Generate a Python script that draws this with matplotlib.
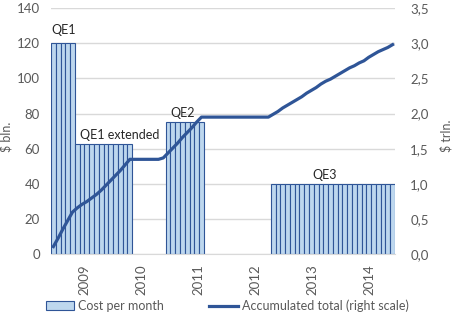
import matplotlib.pyplot as plt
import numpy as np

plt.rcParams['font.family'] = ['Lato', 'DejaVu Sans']

# monthly data, Nov 2008 .. Oct 2014
years = ['2009', '2010', '2011', '2012', '2013', '2014']
cost = [120] * 5 + [62.5] * 12 + [0] * 7 + [75] * 8 + [0] * 14 + [40] * 26
total = [0.11, 0.23, 0.36, 0.48, 0.60, 0.66, 0.71, 0.75, 0.80, 0.85, 0.91, 0.98,
         1.05, 1.12, 1.19, 1.27, 1.35,
         1.35, 1.35, 1.35, 1.35, 1.35, 1.35,
         1.37, 1.44, 1.51, 1.58, 1.66, 1.73, 1.80, 1.88, 1.95,
         1.95, 1.95, 1.95, 1.95, 1.95, 1.95, 1.95, 1.95, 1.95, 1.95, 1.95, 1.95, 1.95, 1.95,
         1.99, 2.03, 2.08, 2.12, 2.16, 2.20, 2.24, 2.29, 2.33, 2.37, 2.42, 2.46, 2.49,
         2.53, 2.57, 2.61, 2.65, 2.68, 2.72, 2.75, 2.80, 2.84, 2.88, 2.91, 2.94, 2.98]
programs = ['QE1', 'QE1 extended', 'QE2', 'QE3']

grey = '#595959'
dark = '#2F5597'

fig = plt.figure(figsize=(4.54, 3.22), dpi=100)
ax = fig.add_axes([0.1123, 0.2102, 0.7577, 0.7648])
ax2 = ax.twinx()

x = np.arange(len(cost))
cost = np.array(cost, dtype=float)
m = cost > 0
ax.bar(x[m], cost[m], width=1.0, color='#BDD7EE', edgecolor=dark, linewidth=0.8,
       label='Cost per month', zorder=2)
ax2.plot(x, total, color=dark, linewidth=2.3, label='Accumulated total (right scale)')

ax.set_xlim(-0.5, len(cost) - 0.5)
ax.set_ylim(0, 140)
ax.set_yticks(range(0, 141, 20))
ax2.set_ylim(0, 3.5)
ax2.set_yticks(np.arange(0, 3.51, 0.5))
ax2.set_yticklabels([f'{v:.1f}'.replace('.', ',') for v in np.arange(0, 3.51, 0.5)])

ax.set_xticks([6.4 + 11.93 * k for k in range(len(years))])
ax.set_xticklabels(years, rotation=90, va='top', ha='center')

ax.grid(axis='y', color='#D9D9D9', linewidth=1, zorder=0)
ax.set_axisbelow(True)
for a in (ax, ax2):
    for s in a.spines.values():
        s.set_visible(False)
    a.tick_params(length=0, labelsize=9.5, labelcolor=grey)
ax.spines['bottom'].set_visible(True)
ax.spines['bottom'].set_color('#D9D9D9')
ax.tick_params(axis='y', pad=8)
ax.tick_params(axis='x', pad=7)
ax2.tick_params(axis='y', pad=11)

ax.set_ylabel('$ bln.', fontsize=9, color=grey)
ax2.set_ylabel('$ trln.', fontsize=9, color=grey)
ax.yaxis.set_label_coords(-0.113, 0.476)
ax2.yaxis.set_label_coords(1.131, 0.48)

# program labels
ax.text(2.1, 127.7, programs[0], ha='center', va='center', fontsize=9, color='#262626')
ax.text(13.9, 67.6, programs[1], ha='center', va='center', fontsize=9, color='#262626')
ax.text(27.0, 80.2, programs[2], ha='center', va='center', fontsize=9, color='#262626')
ax.text(56.8, 44.9, programs[3], ha='center', va='center', fontsize=9, color='#262626')

h1, l1 = ax.get_legend_handles_labels()
h2, l2 = ax2.get_legend_handles_labels()
fig.legend(h1 + h2, l1 + l2, loc='center', bbox_to_anchor=(0.5, 0.05), ncol=2,
           frameon=False, fontsize=9, labelcolor=grey, handlelength=2.3,
           handletextpad=0.3, columnspacing=3.6)

fig.savefig('out.png', dpi=100)
